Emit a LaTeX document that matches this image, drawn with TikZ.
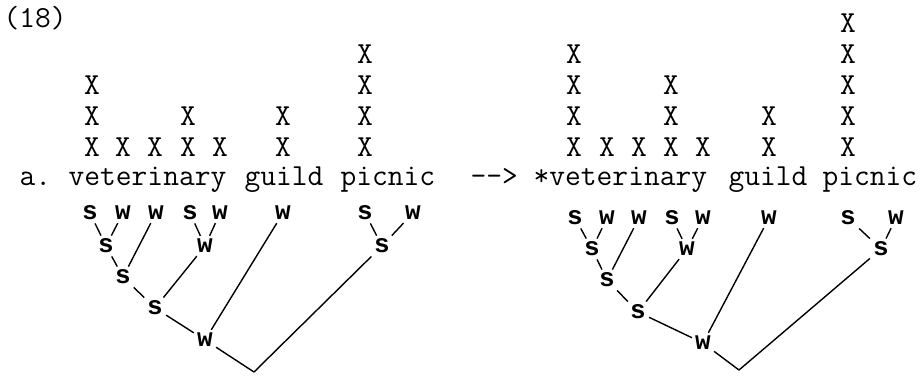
\documentclass[tikz,border=0pt]{standalone}
\usepackage{fontspec}
\newfontfamily\swfont{Liberation Mono}
\usepackage{tikz}

\tikzset{
    word/.style={font=\ttfamily\fontsize{15.3}{18}\selectfont, inner sep=0pt, anchor=base west},
    gridx/.style={font=\ttfamily\fontsize{15.3}{18}\selectfont, inner sep=0pt},
    sw/.style={font=\swfont\bfseries\fontsize{13}{15}\selectfont, inner sep=1.3pt}
}

\begin{document}
\begin{tikzpicture}[x=0.5pt, y=-0.5pt, line width=0.7pt]
    \useasboundingbox (0,0) rectangle (922,376);

    \node[word] (num) at (3,27) {(18)};

    % left: a. veterinary guild picnic
    \node[word] (a) at (19,185) {a.};
    \node[word] (lvet) at (68,185) {veterinary};
    \node[word] (lguild) at (244,185) {guild};
    \node[word] (lpic) at (340,185) {picnic};

    \foreach \x/\n in {92/3, 123/1, 155/1, 188/2, 220/1, 283/2, 365/4}
        \foreach \k in {1,...,\n}
            \node[gridx] (lx-\x-\k) at (\x,{147-31*(\k-1)}) {X};

    \node[sw] (ls1) at (90,213) {s};
    \node[sw] (lw2) at (123,213) {w};
    \node[sw] (lw3) at (156,213) {w};
    \node[sw] (ls4) at (190,213) {s};
    \node[sw] (lw5) at (220,213) {w};
    \node[sw] (lw6) at (283,213) {w};
    \node[sw] (ls7) at (365,213) {s};
    \node[sw] (lw8) at (413,213) {w};
    \node[sw] (lsa) at (106,246) {s};
    \node[sw] (lwb) at (205,246) {w};
    \node[sw] (lsc) at (382,246) {s};
    \node[sw] (lsd) at (123,277) {s};
    \node[sw] (lse) at (155,308) {s};
    \node[sw] (lwf) at (205,340) {w};
    \coordinate (lroot) at (254,372);

    \draw (ls1) -- (lsa);
    \draw (lw2) -- (lsa);
    \draw (lsa) -- (lsd);
    \draw (lw3) -- (lsd);
    \draw (ls4) -- (lwb);
    \draw (lw5) -- (lwb);
    \draw (lsd) -- (lse);
    \draw (lwb) -- (lse);
    \draw (lse) -- (lwf);
    \draw (lw6) -- (lwf);
    \draw (ls7) -- (lsc);
    \draw (lw8) -- (lsc);
    \draw (lwf) -- (lroot);
    \draw (lsc) -- (lroot);

    % right: --> *veterinary guild picnic
    \node[word] (arrow) at (470,185) {-->};
    \node[word] (rvet) at (533,185) {*veterinary};
    \node[word] (rguild) at (728,185) {guild};
    \node[word] (rpic) at (822,185) {picnic};

    \foreach \x/\n in {574/4, 607/1, 639/1, 671/3, 703/1, 769/2, 848/5}
        \foreach \k in {1,...,\n}
            \node[gridx] (rx-\x-\k) at (\x,{147-31*(\k-1)}) {X};

    \node[sw] (rs1) at (575,218) {s};
    \node[sw] (rw2) at (607,218) {w};
    \node[sw] (rw3) at (639,218) {w};
    \node[sw] (rs4) at (672,218) {s};
    \node[sw] (rw5) at (703,218) {w};
    \node[sw] (rw6) at (769,218) {w};
    \node[sw] (rs7) at (848,218) {s};
    \node[sw] (rw8) at (896,218) {w};
    \node[sw] (rsa) at (592,249) {s};
    \node[sw] (rwb) at (687,249) {w};
    \node[sw] (rsc) at (881,249) {s};
    \node[sw] (rsd) at (607,280) {s};
    \node[sw] (rse) at (638,312) {s};
    \node[sw] (rwf) at (703,343) {w};
    \coordinate (rroot) at (739,370);

    \draw (rs1) -- (rsa);
    \draw (rw2) -- (rsa);
    \draw (rsa) -- (rsd);
    \draw (rw3) -- (rsd);
    \draw (rs4) -- (rwb);
    \draw (rw5) -- (rwb);
    \draw (rsd) -- (rse);
    \draw (rwb) -- (rse);
    \draw (rse) -- (rwf);
    \draw (rw6) -- (rwf);
    \draw (rs7) -- (rsc);
    \draw (rw8) -- (rsc);
    \draw (rwf) -- (rroot);
    \draw (rsc) -- (rroot);
\end{tikzpicture}
\end{document}
